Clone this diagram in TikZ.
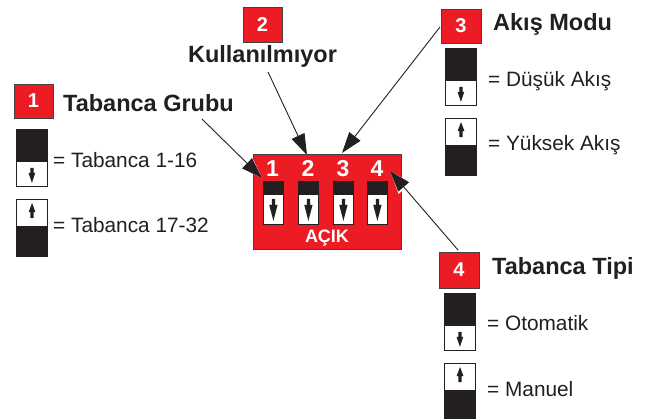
\documentclass[tikz,border=0pt]{standalone}
\usepackage{fontspec}
\setmainfont{Liberation Sans}
\usetikzlibrary{arrows.meta,calc}
\definecolor{dipred}{HTML}{ED1C24}
\definecolor{dipdark}{HTML}{231F20}
% downward switch arrow: node, stem top below north, head base below north, tip above south, head half width
\newcommand\arrdown[5]{\fill[dipdark] ($(#1.north)+(-1.6,#2)$) -- ($(#1.north)+(1.6,#2)$) -- ($(#1.north)+(1.6,#3)$) -- ($(#1.north)+(#5,#3)$) -- ($(#1.south)+(0,-#4)$) -- ($(#1.north)+(-#5,#3)$) -- ($(#1.north)+(-1.6,#3)$) -- cycle;}
% upward switch arrow: node, tip below north, head base above south, stem bottom above south, head half width
\newcommand\arrup[5]{\fill[dipdark] ($(#1.north)+(0,#2)$) -- ($(#1.south)+(#5,-#3)$) -- ($(#1.south)+(1.6,-#3)$) -- ($(#1.south)+(1.6,-#4)$) -- ($(#1.south)+(-1.6,-#4)$) -- ($(#1.south)+(-1.6,-#3)$) -- ($(#1.south)+(-#5,-#3)$) -- cycle;}
\newcommand\swdown[3]{%
  \node[blk, minimum width=31pt, minimum height=31pt, anchor=north west] (#1b) at (#2,#3) {};
  \node[wht, minimum width=31pt, minimum height=25pt, anchor=north] (#1w) at (#1b.south) {};
  \arrdown{#1w}{7}{12}{4}{3.4}
}
\newcommand\swup[3]{%
  \node[wht, minimum width=31pt, minimum height=27pt, anchor=north west] (#1w) at (#2,#3) {};
  \node[blk, minimum width=31pt, minimum height=29pt, anchor=north] (#1b) at (#1w.south) {};
  \arrup{#1w}{4}{15}{9}{3.4}
}
\begin{document}
\begin{tikzpicture}[x=1pt,y=-1pt,
  redbox/.style={fill=dipred, draw=dipdark!85, line width=0.8pt, inner sep=0pt},
  numtxt/.style={text=white, font=\bfseries\fontsize{20}{20}\selectfont},
  head/.style={font=\bfseries\fontsize{23.5}{23.5}\selectfont, text=dipdark, inner sep=0pt, anchor=base west},
  leg/.style={font=\fontsize{20.8}{20.8}\selectfont, text=dipdark, inner sep=0pt, anchor=base west},
  blk/.style={fill=dipdark, draw=dipdark, line width=0.8pt, inner sep=0pt},
  wht/.style={fill=white, draw=dipdark, line width=1.1pt, inner sep=0pt},
  callout/.style={draw=dipdark, line width=0.9pt, -{Triangle[length=21pt,width=14pt]},
    preaction={draw=white, line width=3pt, -{Triangle[length=23pt,width=16pt]}}},
]
\useasboundingbox[fill=white] (0,0) rectangle (662,419);

% main DIP switch block
\node[redbox, minimum width=148pt, minimum height=95pt, anchor=north west] (dip) at (253,154) {};
\foreach \i/\x/\c in {1/263/272.5,2/298/308,3/333/343,4/367/377} {
  \node[font=\bfseries\fontsize{23}{23}\selectfont, text=white, inner sep=0pt, anchor=base] (n\i) at (\c,177) {\i};
  \node[blk, minimum width=20pt, minimum height=12pt, anchor=north west] (s\i b) at (\x,181) {};
  \node[wht, minimum width=20pt, minimum height=30pt, anchor=north] (s\i w) at (s\i b.south) {};
  \arrdown{s\i w}{5}{11}{4}{4.2}
}
\node[font=\bfseries\fontsize{18}{18}\selectfont, text=white, inner sep=0pt, anchor=base] (acik) at (327,243) {AÇIK};

% legend 1
\node[redbox, numtxt, minimum width=39pt, minimum height=34pt] (r1) at (33.5,101) {1};
\node[head] (h1) at (63,112) {Tabanca Grubu};
\swdown{l1d}{16}{129}
\node[leg] (t1a) at (53,168) {= Tabanca 1-16};
\swup{l1u}{16}{199}
\node[leg] (t1b) at (53,233) {= Tabanca 17-32};

% legend 2
\node[redbox, numtxt, minimum width=39pt, minimum height=35pt] (r2) at (262.5,24.5) {2};
\node[head, anchor=base] (h2) at (262.5,63) {Kullanılmıyor};

% legend 3
\node[redbox, numtxt, minimum width=40pt, minimum height=34pt] (r3) at (461,26) {3};
\node[head] (h3) at (493,31) {Akış Modu};
\swdown{l3d}{445}{48}
\node[leg] (t3a) at (488,87) {= Düşük Akış};
\swup{l3u}{445}{118}
\node[leg] (t3b) at (488,151) {= Yüksek Akış};

% legend 4
\node[redbox, numtxt, minimum width=40pt, minimum height=36pt] (r4) at (459,270) {4};
\node[head] (h4) at (492,275) {Tabanca Tipi};
\swdown{l4d}{444}{293}
\node[leg] (t4a) at (487,331) {= Otomatik};
\swup{l4u}{444}{363}
\node[leg] (t4b) at (487,397) {= Manuel};

% callout arrows
\coordinate (a1s) at (202,119); \coordinate (a1e) at (262,178);
\coordinate (a2s) at (268,72);  \coordinate (a2e) at (307,155);
\coordinate (a3s) at (440,27);  \coordinate (a3e) at (342,153);
\coordinate (a4s) at (458,250); \coordinate (a4e) at (390,171);
\draw[callout] (a1s) -- (a1e);
\draw[callout] (a2s) -- (a2e);
\draw[callout] (a3s) -- (a3e);
\draw[callout] (a4s) -- (a4e);
\end{tikzpicture}
\end{document}
